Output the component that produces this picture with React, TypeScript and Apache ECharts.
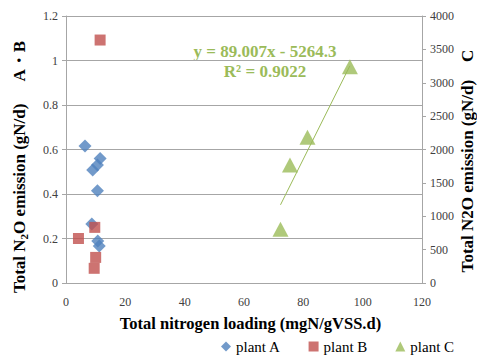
import { useEffect, useRef } from "react";
import * as echarts from "echarts";

const legendNames = ["plant A", "plant B", "plant C"];
const plantAX = [6.4, 11.5, 10.6, 9.0, 10.6, 8.7, 10.7, 11.2];
const plantAY = [0.616, 0.56, 0.53, 0.508, 0.415, 0.265, 0.189, 0.166];
const plantBX = [11.5, 9.7, 4.2, 10.0, 9.5];
const plantBY = [1.092, 0.25, 0.2, 0.115, 0.066];
const plantCX = [72.3, 75.5, 81.4, 95.7];
const plantCY = [804, 1768, 2183, 3240];
const trendSlope = 89.007;
const trendIntercept = -5264.3;
const eqText = "y = 89.007x - 5264.3";
const r2Text = "R² = 0.9022";

const SERIF = "Liberation Serif";

export default function App() {
  const ref = useRef<HTMLDivElement>(null);
  useEffect(() => {
    const chart = echarts.init(ref.current!, null, { renderer: "svg" });
    const xMin = Math.min(...plantCX);
    const xMax = Math.max(...plantCX);
    const trend = [
      [xMin, trendSlope * xMin + trendIntercept],
      [xMax, trendSlope * xMax + trendIntercept],
    ];
    const grey = "#A6A6A6";
    const labelStyle = { color: "#404040", fontSize: 12, fontFamily: SERIF };
    const option = {
      animation: false,
      textStyle: { fontFamily: SERIF },
      grid: { left: 66, right: 55, top: 16, bottom: 73 },
      legend: {
        data: [
          { name: legendNames[0], icon: "diamond" },
          { name: legendNames[1], icon: "rect" },
          { name: legendNames[2], icon: "triangle" },
        ],
        left: 221,
        top: 339,
        padding: 0,
        itemWidth: 10,
        itemHeight: 10,
        itemGap: 28,
        textStyle: { fontSize: 15, color: "#000", fontFamily: SERIF },
      },
      xAxis: {
        type: "value",
        min: 0,
        max: 120,
        interval: 20,
        axisLine: { show: true, lineStyle: { color: grey } },
        axisTick: { show: false },
        splitLine: { show: false },
        axisLabel: { ...labelStyle, margin: 13 },
        name: "Total nitrogen loading (mgN/gVSS.d)",
        nameLocation: "middle",
        nameGap: 32,
        nameTextStyle: {
          fontSize: 16.5,
          fontWeight: "bold",
          color: "#000",
          fontFamily: SERIF,
          padding: [0, 0, 0, 13],
        },
      },
      yAxis: [
        {
          type: "value",
          min: 0,
          max: 1.2,
          interval: 0.2,
          position: "left",
          axisLine: { show: true, lineStyle: { color: grey } },
          axisTick: { show: true, length: 4, lineStyle: { color: grey } },
          splitLine: { show: true, lineStyle: { color: grey, width: 1 } },
          axisLabel: { ...labelStyle, margin: 8 },
        },
        {
          type: "value",
          min: 0,
          max: 4000,
          interval: 500,
          position: "right",
          axisLine: { show: true, lineStyle: { color: grey } },
          axisTick: { show: true, length: 4, lineStyle: { color: grey } },
          splitLine: { show: false },
          axisLabel: { ...labelStyle, margin: 8, formatter: (v: number) => String(v) },
        },
      ],
      series: [
        {
          name: legendNames[0],
          type: "scatter",
          yAxisIndex: 0,
          symbol: "diamond",
          symbolSize: 13,
          itemStyle: { color: "#4F81BD" },
          data: plantAX.map((x, i) => [x, plantAY[i]]),
        },
        {
          name: legendNames[1],
          type: "scatter",
          yAxisIndex: 0,
          symbol: "rect",
          symbolSize: 11,
          itemStyle: { color: "#C0504D" },
          data: plantBX.map((x, i) => [x, plantBY[i]]),
        },
        {
          name: "trend",
          type: "line",
          yAxisIndex: 1,
          symbol: "none",
          silent: true,
          lineStyle: { color: "#9BBB59", width: 1 },
          data: trend,
        },
        {
          name: legendNames[2],
          type: "scatter",
          yAxisIndex: 1,
          symbol: "triangle",
          symbolSize: [16, 15],
          itemStyle: { color: "#9BBB59" },
          data: plantCX.map((x, i) => [x, plantCY[i]]),
        },
      ],
      graphic: [
        {
          type: "text",
          x: 19,
          y: 167,
          rotation: Math.PI / 2,
          style: {
            text: "{t|Total N}{s|2}{t|O emission (gN/d)}{g|A・B}",
            align: "center",
            verticalAlign: "middle",
            fill: "#000",
            rich: {
              t: { fontSize: 17, fontWeight: "bold", fontFamily: SERIF, lineHeight: 20, verticalAlign: "middle" },
              s: { fontSize: 11, fontWeight: "bold", fontFamily: SERIF, lineHeight: 11, verticalAlign: "bottom" },
              g: { fontSize: 17, fontWeight: "bold", fontFamily: SERIF, lineHeight: 20, verticalAlign: "middle", padding: [0, 0, 0, 22] },
            },
          },
        },
        {
          type: "text",
          x: 467,
          y: 161,
          rotation: Math.PI / 2,
          style: {
            text: "{t|Total N2O emission (gN/d)}{g|C}",
            align: "center",
            verticalAlign: "middle",
            fill: "#000",
            rich: {
              t: { fontSize: 17, fontWeight: "bold", fontFamily: SERIF },
              g: { fontSize: 17, fontWeight: "bold", fontFamily: SERIF, padding: [0, 0, 0, 18] },
            },
          },
        },
        {
          type: "text",
          x: 265,
          y: 51,
          style: {
            text: eqText,
            align: "center",
            verticalAlign: "middle",
            fill: "#9BBB59",
            fontSize: 17,
            fontWeight: "bold",
            fontFamily: SERIF,
          },
        },
        {
          type: "text",
          x: 265,
          y: 71,
          style: {
            text: r2Text,
            align: "center",
            verticalAlign: "middle",
            fill: "#9BBB59",
            fontSize: 17,
            fontWeight: "bold",
            fontFamily: SERIF,
          },
        },
      ],
    };
    chart.setOption(option as any);
    return () => chart.dispose();
  }, []);
  return (
    <div
      ref={ref}
      style={{ position: "absolute", left: 0, top: 0, width: 477, height: 356, background: "#fff" }}
    />
  );
}
